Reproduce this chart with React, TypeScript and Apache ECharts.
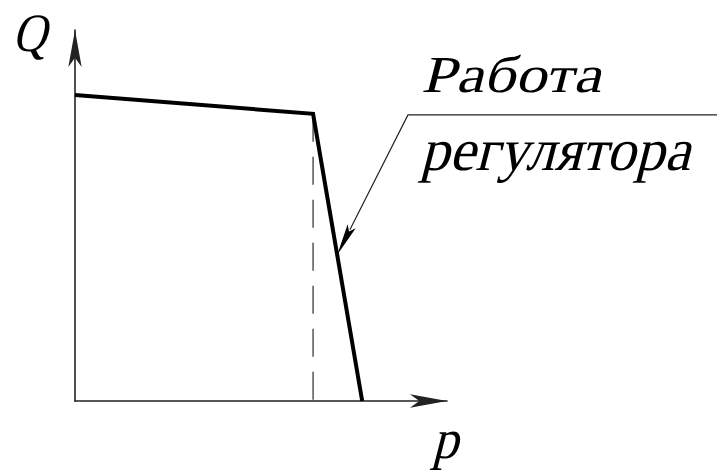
import React, { useEffect, useRef } from "react";
import * as echarts from "echarts";

// Characteristic Q(p): flat part, break point at the regulator setpoint, steep drop
const curveP = [0, 64.0, 77.2];
const curveQ = [82.5, 77.4, 0];
// dashed drop line from the break point to the p axis
const setpointP = 64.0;
const setpointQ = 77.4;
// annotation leader: knee point and arrow tip (on the steep segment)
const leaderKnee = [89.5, 77.1];
const leaderTip = [70.5, 39.4];
const annotationLines = ["Работа", "регулятора"];
const yAxisName = "Q";
const xAxisName = "p";

const FAMILY = "Liberation Serif";
const SLANT = -0.25;

export default function App() {
  const ref = useRef<HTMLDivElement>(null);
  useEffect(() => {
    if (!ref.current) return;
    const chart = echarts.init(ref.current, undefined, { renderer: "svg" });
    const axisLine = (size: number[]) => ({
      show: true,
      symbol: ["none", "arrow"],
      symbolSize: size,
      lineStyle: { color: "#222", width: 1.6 },
    });
    chart.setOption({
      animation: false,
      backgroundColor: "#ffffff",
      grid: { left: 75, right: 270, top: 30, bottom: 71 },
      xAxis: {
        type: "value",
        min: 0,
        max: 100,
        axisLine: axisLine([10, 37]),
        axisTick: { show: false },
        axisLabel: { show: false },
        splitLine: { show: false },
      },
      yAxis: {
        type: "value",
        min: 0,
        max: 100,
        axisLine: axisLine([10, 37]),
        axisTick: { show: false },
        axisLabel: { show: false },
        splitLine: { show: false },
      },
      series: [
        {
          type: "line",
          data: [
            [setpointP, setpointQ],
            [setpointP, 0],
          ],
          showSymbol: false,
          symbol: "none",
          lineStyle: { color: "#555", width: 1.5, type: [28, 15] },
          z: 1,
        },
        {
          type: "line",
          data: curveP.map((p, i) => [p, curveQ[i]]),
          showSymbol: false,
          symbol: "none",
          lineStyle: { color: "#000", width: 4, join: "miter" },
          z: 2,
        },
      ],
    });

    const knee = chart.convertToPixel({ gridIndex: 0 }, leaderKnee) as number[];
    const tip = chart.convertToPixel({ gridIndex: 0 }, leaderTip) as number[];
    const dx = tip[0] - knee[0];
    const dy = tip[1] - knee[1];
    const len = Math.hypot(dx, dy);
    const ux = dx / len;
    const uy = dy / len;
    const nx = -uy;
    const ny = ux;
    const headLen = 32;
    const headW = 4.5;
    const bx = tip[0] - ux * headLen;
    const by = tip[1] - uy * headLen;

    chart.setOption({
      graphic: [
        {
          type: "polyline",
          shape: {
            points: [
              [chart.getWidth(), knee[1]],
              knee,
              [bx + ux * 4, by + uy * 4],
            ],
          },
          style: { stroke: "#222", lineWidth: 1.2, fill: "none" },
        },
        {
          type: "polygon",
          shape: {
            points: [
              tip,
              [bx + nx * headW, by + ny * headW],
              [bx + ux * 6, by + uy * 6],
              [bx - nx * headW, by - ny * headW],
            ],
          },
          style: { fill: "#000" },
        },
      ],
    });

    // Slanted serif labels (oblique Liberation Serif), baseline-anchored
    const zr = chart.getZr();
    const addLabel = (
      text: string,
      left: number,
      baseline: number,
      size: number,
      inkWidth: number
    ) => {
      const off = 0.3375 * size;
      const el = new (echarts.graphic as any).Text({
        style: {
          text,
          fontFamily: FAMILY,
          fontSize: size,
          fill: "#000",
          align: "left",
          verticalAlign: "middle",
        },
        x: left,
        y: baseline - off,
        originX: 0,
        originY: off,
        skewX: SLANT,
        z: 100,
      });
      const w = el.getBoundingRect().width;
      el.scaleX = w > 0 ? inkWidth / w : 1;
      el.dirty && el.dirty();
      zr.add(el);
    };
    addLabel(annotationLines[0], 421, 92, 52, 180);
    addLabel(annotationLines[1], 420, 170, 60, 270);
    addLabel(yAxisName, 12, 51, 54, 34);
    addLabel(xAxisName, 432, 458, 56, 26);

    return () => chart.dispose();
  }, []);
  return (
    <div
      ref={ref}
      style={{ position: "fixed", left: 0, top: 0, width: 717, height: 472 }}
    />
  );
}
